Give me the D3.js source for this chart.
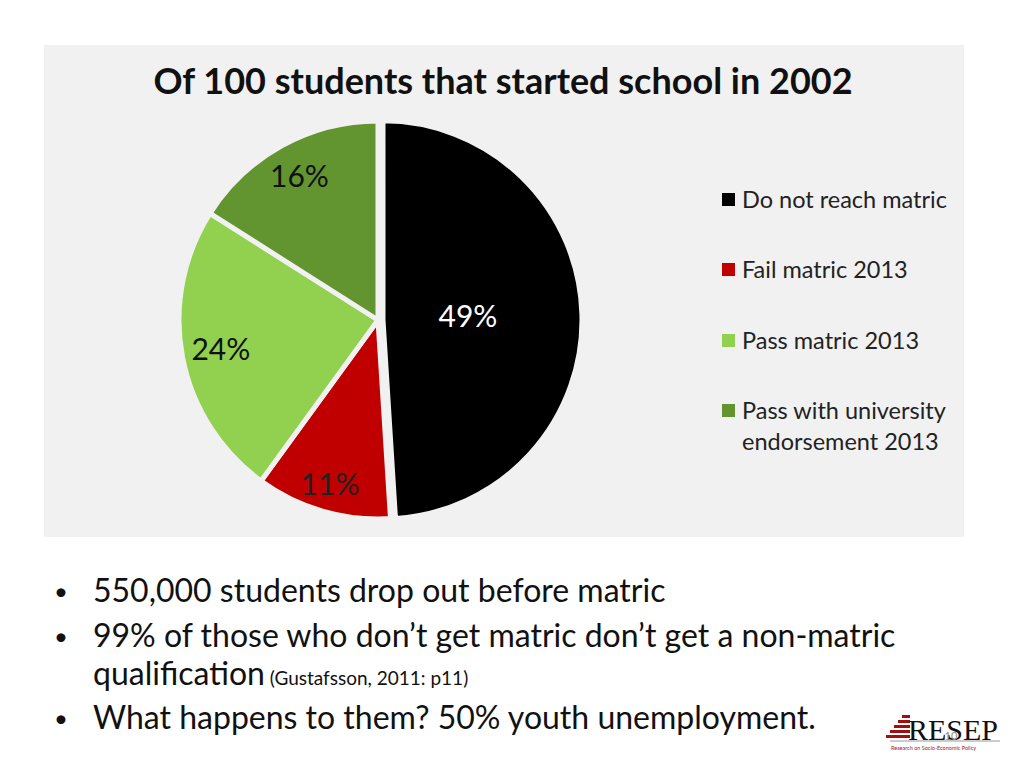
<!DOCTYPE html>
<html><head><meta charset="utf-8">
<script src="https://cdn.jsdelivr.net/npm/d3@7"></script>
<style>body{margin:0;background:#fff}svg{display:block;font-family:Lato,"Open Sans",sans-serif}</style>
</head><body><svg width="1024" height="768"></svg>
<script>
const categories = ["Do not reach matric", "Fail matric 2013", "Pass matric 2013", "Pass with university endorsement 2013"];
const values = [49, 11, 24, 16];
const colors = ["#000000", "#c00000", "#92d050", "#629530"];
const labelColors = ["#fff", "#222", "#111", "#111"];
const labelRadius = [90, 172, 160, 163];
const explode = [5, 0, 0, 0];

const svg = d3.select("svg");
svg.append("rect").attr("x", 44).attr("y", 45).attr("width", 920).attr("height", 492).attr("fill", "#f1f1f1");
svg.append("text").attr("x", 503).attr("y", 94).attr("text-anchor", "middle")
  .attr("font-size", 36).attr("font-weight", "bold").attr("fill", "#111")
  .text("Of 100 students that started school in 2002");

const cx = 378, cy = 320, r = 199;
const pie = d3.pie().sort(null).value(d => d)(values);
const arc = d3.arc().innerRadius(0).outerRadius(r);
const g = svg.append("g").attr("transform", `translate(${cx},${cy})`);
pie.forEach((p, i) => {
  const mid = (p.startAngle + p.endAngle) / 2;
  const ox = Math.sin(mid) * explode[i], oy = -Math.cos(mid) * explode[i];
  g.append("path").attr("d", arc(p)).attr("transform", `translate(${ox},${oy})`)
    .attr("fill", colors[i]).attr("stroke", "#f1f1f1").attr("stroke-width", 5).attr("stroke-linejoin", "round");
  const lr = labelRadius[i];
  g.append("text").attr("x", Math.sin(mid) * lr).attr("y", -Math.cos(mid) * lr + 10)
    .attr("text-anchor", "middle").attr("font-size", 30).attr("fill", labelColors[i])
    .text(values[i] + "%");
});

// legend
const legY = [200, 270, 341, 411];
categories.forEach((c, i) => {
  svg.append("rect").attr("x", 722).attr("y", legY[i] - 7).attr("width", 13).attr("height", 13).attr("fill", colors[i]);
  const t = svg.append("text").attr("x", 742).attr("y", legY[i] + 8).attr("font-size", 23.5).attr("fill", "#222");
  if (i === 3) {
    t.append("tspan").text("Pass with university");
    t.append("tspan").attr("x", 742).attr("dy", 31).text("endorsement 2013");
  } else t.text(c);
});

// bullets
const bullets = [
  [602, "550,000 students drop out before matric", true],
  [647, "99% of those who don\u2019t get matric don\u2019t get a non-matric", true],
  [685, "qualification", false],
  [729, "What happens to them? 50% youth unemployment.", true]
];
bullets.forEach(([y, s, dot]) => {
  if (dot) svg.append("text").attr("x", 54).attr("y", y - 2).attr("font-size", 24).attr("fill", "#111").text("\u2022");
  const t = svg.append("text").attr("x", 93).attr("y", y).attr("font-size", 32).attr("fill", "#111").text(s);
  if (s === "qualification") t.append("tspan").attr("font-size", 19).text(" (Gustafsson, 2011: p11)");
});

// logo
const lg = svg.append("g");
[0,1,2,3,4].forEach(k => lg.append("rect").attr("x", 902 - k * 4).attr("y", 715 + k * 5).attr("width", 8 + k * 4).attr("height", 3).attr("fill", "#a01010"));
lg.append("text").attr("x", 908).attr("y", 740).attr("font-family", "Liberation Serif,serif").attr("font-size", 30).attr("fill", "#111").text("RESEP");
lg.append("line").attr("x1", 890).attr("x2", 1000).attr("y1", 741).attr("y2", 741).attr("stroke", "#999");
lg.append("text").attr("x", 891).attr("y", 750).attr("font-size", 5.5).attr("fill", "#a02020").text("Research on Socio-Economic Policy");
lg.append("text").attr("x", 951).attr("y", 740).attr("font-size", 11).attr("fill", "#888").attr("text-anchor", "middle").text("10");
</script></body></html>
